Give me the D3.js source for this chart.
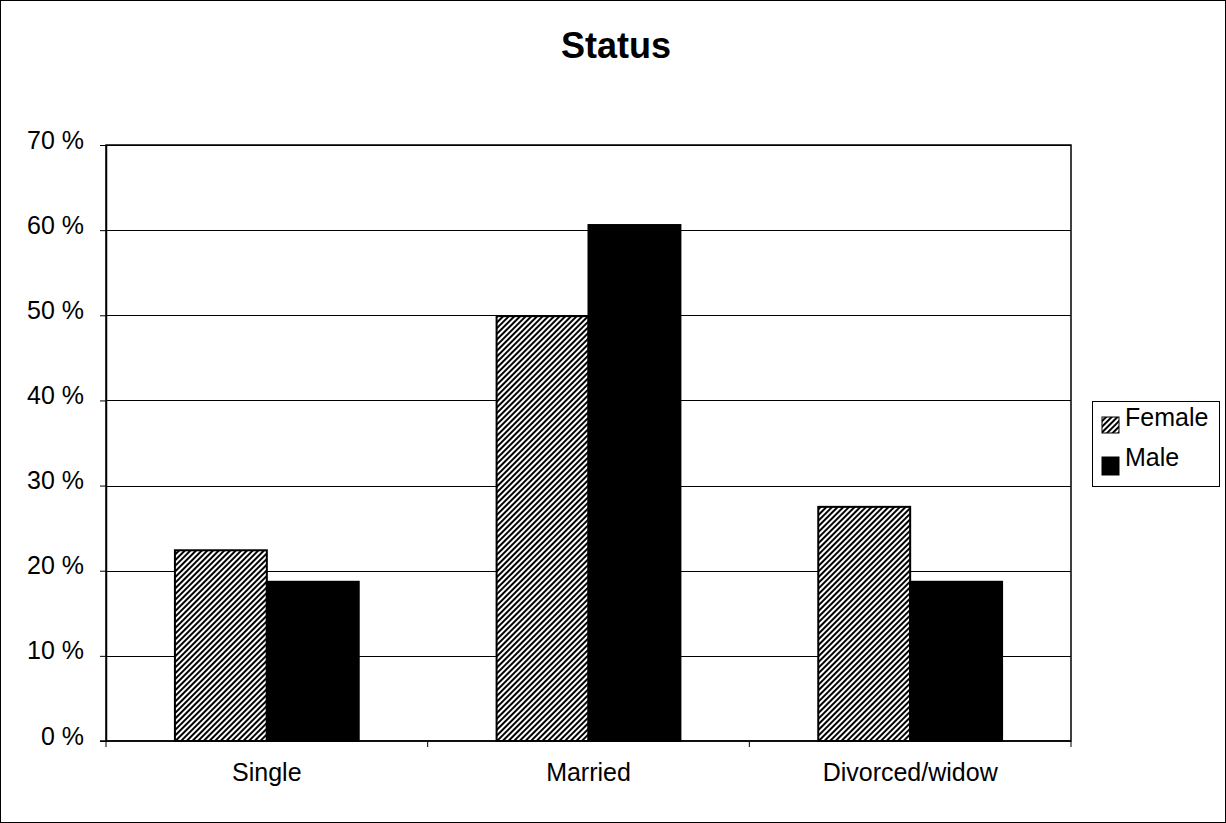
<!DOCTYPE html>
<html><head><meta charset="utf-8">
<script src="https://cdn.jsdelivr.net/npm/d3@7"></script>
<style>body{margin:0;background:#fff}svg{display:block}text{font-family:"Liberation Sans",Arial,sans-serif}</style>
</head><body>
<svg id="c" width="1226" height="823"></svg>
<script>
const categories = ["Single", "Married", "Divorced/widow"];
const seriesNames = ["Female", "Male"];
const female = [22.4, 49.9, 27.5];
const male = [18.7, 60.6, 18.7];
const yTicks = [0, 10, 20, 30, 40, 50, 60, 70];
const title = "Status";

const svg = d3.select("#c");
const W = 1226, H = 823;
const m = {left: 106, right: 1071, top: 145, bottom: 741};

const defs = svg.append("defs");
const pat = defs.append("pattern").attr("id", "hatch").attr("patternUnits", "userSpaceOnUse")
  .attr("width", 4).attr("height", 4).attr("patternTransform", "rotate(45)");
pat.append("rect").attr("width", 4).attr("height", 4).attr("fill", "#fff");
pat.append("rect").attr("x", 0).attr("width", 2).attr("height", 4).attr("fill", "#000");

svg.append("rect").attr("x", 0.5).attr("y", 0.5).attr("width", W - 1).attr("height", H - 1)
  .attr("fill", "#fff").attr("stroke", "#000").attr("stroke-width", 1);

const x = d3.scaleBand().domain(categories).range([m.left, m.right]).paddingInner(0).paddingOuter(0);
const x1 = d3.scaleBand().domain(seriesNames).range([0, x.bandwidth()]).paddingInner(0).paddingOuter(0.75);
const y = d3.scaleLinear().domain([0, 70]).range([m.bottom, m.top]);

// plot frame
svg.append("rect").attr("x", m.left).attr("y", m.top).attr("width", m.right - m.left).attr("height", m.bottom - m.top)
  .attr("fill", "none").attr("stroke", "#000").attr("stroke-width", 1.5);

// gridlines
svg.append("g").selectAll("line").data(yTicks.filter(d => d > 0)).join("line")
  .attr("x1", m.left).attr("x2", m.right).attr("y1", d => Math.round(y(d)) + 0.5).attr("y2", d => Math.round(y(d)) + 0.5)
  .attr("stroke", "#000").attr("stroke-width", 1);

// y axis
const yAxis = d3.axisLeft(y).tickValues(yTicks).tickFormat(d => d + " %").tickSizeInner(6).tickSizeOuter(0).tickPadding(16);
const gy = svg.append("g").attr("transform", `translate(${m.left},0)`).call(yAxis);
gy.select(".domain").attr("stroke", "#000").attr("stroke-width", 1.5);
gy.selectAll("text").attr("font-size", 25).attr("fill", "#000").attr("dy", "0.12em");

// x axis
const gx = svg.append("g").attr("transform", `translate(0,${m.bottom})`);
gx.append("line").attr("x1", m.left - 6).attr("x2", m.right).attr("y1", 0).attr("y2", 0).attr("stroke", "#000").attr("stroke-width", 1.5);
const bounds = categories.map(c => x(c)).concat([m.right]);
gx.selectAll("line.t").data(bounds).join("line").attr("class", "t")
  .attr("x1", d => d).attr("x2", d => d).attr("y1", 0).attr("y2", 6).attr("stroke", "#000");
gx.selectAll("text").data(categories).join("text")
  .attr("x", d => x(d) + x.bandwidth() / 2).attr("y", 40).attr("text-anchor", "middle")
  .attr("font-size", 25).attr("fill", "#000").text(d => d);

// bars
const data = categories.map((c, i) => ({c, vals: [{s: "Female", v: female[i]}, {s: "Male", v: male[i]}]}));
const groups = svg.append("g").selectAll("g").data(data).join("g").attr("transform", d => `translate(${x(d.c)},0)`);
groups.selectAll("rect").data(d => d.vals).join("rect")
  .attr("x", d => x1(d.s)).attr("width", x1.bandwidth())
  .attr("y", d => y(d.v)).attr("height", d => y(0) - y(d.v))
  .attr("fill", d => d.s === "Female" ? "url(#hatch)" : "#000")
  .attr("stroke", "#000").attr("stroke-width", 2);

// title
svg.append("text").attr("x", 616).attr("y", 58).attr("text-anchor", "middle")
  .attr("font-size", 36).attr("font-weight", "bold").attr("fill", "#000").text(title);

// legend
const lg = svg.append("g");
lg.append("rect").attr("x", 1092.5).attr("y", 401.5).attr("width", 127).attr("height", 85)
  .attr("fill", "#fff").attr("stroke", "#000").attr("stroke-width", 1);
seriesNames.forEach((s, i) => {
  const base = 426 + i * 40;
  lg.append("rect").attr("x", 1102).attr("y", base - 9 + i * 0).attr("width", 17).attr("height", i === 0 ? 16 : 18)
    .attr("transform", i === 1 ? "translate(0,0)" : null)
    .attr("fill", s === "Female" ? "url(#hatch)" : "#000").attr("stroke", "#000").attr("stroke-width", 1);
  lg.append("text").attr("x", 1125).attr("y", base).attr("font-size", 25).attr("fill", "#000").text(s);
});
</script>
</body></html>
